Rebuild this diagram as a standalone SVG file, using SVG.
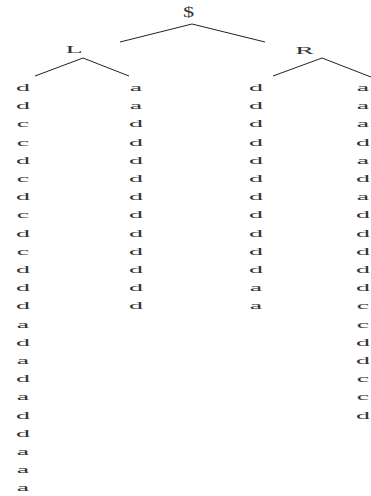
<svg xmlns="http://www.w3.org/2000/svg" width="371" height="496" viewBox="0 0 371 496">
<style>
.t{font-family:"Liberation Serif","Times New Roman",serif;font-size:10px;fill:#333;text-anchor:middle}
.e{stroke:#222;stroke-width:1;fill:none}
</style>
<rect width="371" height="496" fill="#fff"/>
<g id="connectors">
<line class="e" x1="192" y1="24" x2="120" y2="42"/>
<line class="e" x1="192" y1="24" x2="265" y2="42"/>
<line class="e" x1="83" y1="58" x2="35" y2="76"/>
<line class="e" x1="83" y1="58" x2="129" y2="76"/>
<line class="e" x1="322" y1="58" x2="273" y2="76"/>
<line class="e" x1="322" y1="58" x2="371" y2="77"/>
</g>
<g id="root" transform="translate(188.5,0) scale(1.6,1)"><text class="t" style="font-size:14px" x="0" y="17">$</text></g>
<g id="L" transform="translate(74,0) scale(2.8,1)"><text class="t" x="0" y="53">L</text></g>
<g id="R" transform="translate(304.5,0) scale(2.8,1)"><text class="t" x="0" y="54">R</text></g>
<g id="leafL1" transform="translate(23,0) scale(2.8,1)"><text class="t">
<tspan x="0" y="91">d</tspan><tspan x="0" y="109.2">d</tspan><tspan x="0" y="127.4">c</tspan><tspan x="0" y="145.6">c</tspan><tspan x="0" y="163.8">d</tspan><tspan x="0" y="182">c</tspan><tspan x="0" y="200.2">d</tspan><tspan x="0" y="218.4">c</tspan><tspan x="0" y="236.6">d</tspan><tspan x="0" y="254.8">c</tspan><tspan x="0" y="273">d</tspan><tspan x="0" y="291.2">d</tspan><tspan x="0" y="309.4">d</tspan><tspan x="0" y="327.6">a</tspan><tspan x="0" y="345.8">d</tspan><tspan x="0" y="364">a</tspan><tspan x="0" y="382.2">d</tspan><tspan x="0" y="400.4">a</tspan><tspan x="0" y="418.6">d</tspan><tspan x="0" y="436.8">d</tspan><tspan x="0" y="455">a</tspan><tspan x="0" y="473.2">a</tspan><tspan x="0" y="491.4">a</tspan>
</text></g>
<g id="leafL2" transform="translate(136,0) scale(2.8,1)"><text class="t">
<tspan x="0" y="91">a</tspan><tspan x="0" y="109.2">a</tspan><tspan x="0" y="127.4">d</tspan><tspan x="0" y="145.6">d</tspan><tspan x="0" y="163.8">d</tspan><tspan x="0" y="182">d</tspan><tspan x="0" y="200.2">d</tspan><tspan x="0" y="218.4">d</tspan><tspan x="0" y="236.6">d</tspan><tspan x="0" y="254.8">d</tspan><tspan x="0" y="273">d</tspan><tspan x="0" y="291.2">d</tspan><tspan x="0" y="309.4">d</tspan>
</text></g>
<g id="leafR1" transform="translate(256,0) scale(2.8,1)"><text class="t">
<tspan x="0" y="91">d</tspan><tspan x="0" y="109.2">d</tspan><tspan x="0" y="127.4">d</tspan><tspan x="0" y="145.6">d</tspan><tspan x="0" y="163.8">d</tspan><tspan x="0" y="182">d</tspan><tspan x="0" y="200.2">d</tspan><tspan x="0" y="218.4">d</tspan><tspan x="0" y="236.6">d</tspan><tspan x="0" y="254.8">d</tspan><tspan x="0" y="273">d</tspan><tspan x="0" y="291.2">a</tspan><tspan x="0" y="309.4">a</tspan>
</text></g>
<g id="leafR2" transform="translate(363,0) scale(2.8,1)"><text class="t">
<tspan x="0" y="91">a</tspan><tspan x="0" y="109.2">a</tspan><tspan x="0" y="127.4">a</tspan><tspan x="0" y="145.6">d</tspan><tspan x="0" y="163.8">a</tspan><tspan x="0" y="182">d</tspan><tspan x="0" y="200.2">a</tspan><tspan x="0" y="218.4">d</tspan><tspan x="0" y="236.6">d</tspan><tspan x="0" y="254.8">d</tspan><tspan x="0" y="273">d</tspan><tspan x="0" y="291.2">d</tspan><tspan x="0" y="309.4">c</tspan><tspan x="0" y="327.6">c</tspan><tspan x="0" y="345.8">d</tspan><tspan x="0" y="364">d</tspan><tspan x="0" y="382.2">c</tspan><tspan x="0" y="400.4">c</tspan><tspan x="0" y="418.6">d</tspan>
</text></g>
</svg>
